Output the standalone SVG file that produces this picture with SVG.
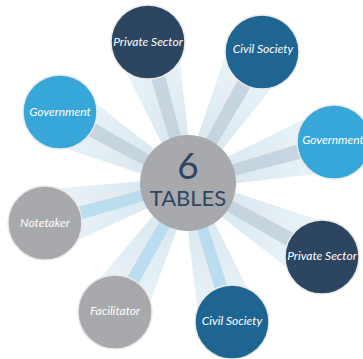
<svg xmlns="http://www.w3.org/2000/svg" width="363" height="359" viewBox="0 0 363 359">
<style>
.lbl{font-family:Lato,"Open Sans","Liberation Sans",sans-serif;font-style:italic;font-size:12px;fill:#ffffff;text-anchor:middle}
.node{stroke:#e9e9e9;stroke-width:1.5}
.dark{fill:#2c4661}
.civil{fill:#1f6592}
.gov{fill:#37a7d9}
.gray{fill:#a8a9ad}
.fan{fill:url(#fanGrad)}
.fan2{fill:url(#fanGrad2)}
.bandG{fill:#c0d0dc;opacity:0.85}
.bandB{fill:#b5dbee;opacity:0.9}
</style>
<defs>
<linearGradient id="fanGrad" x1="0" y1="0" x2="1" y2="0">
<stop offset="0" stop-color="#cfe0ea" stop-opacity="0.9"/>
<stop offset="1" stop-color="#e6f2f9" stop-opacity="0.8"/>
</linearGradient>
<linearGradient id="fanGrad2" x1="0" y1="0" x2="1" y2="0">
<stop offset="0" stop-color="#d7e1e9" stop-opacity="0.9"/>
<stop offset="1" stop-color="#f0f4f7" stop-opacity="0.6"/>
</linearGradient>
<g id="beamG">
<polygon class="fan" points="0,-6 150,-34 150,30 0,6"/>
<polygon class="fan2" points="0,-3 150,-20 150,4 0,4"/>
<polygon class="bandG" points="0,-5 150,-8 150,8 0,5"/>
</g>
<g id="beamB">
<polygon class="fan" points="0,-6 150,-30 150,34 0,6"/>
<polygon class="fan2" points="0,-4 150,-4 150,20 0,3"/>
<polygon class="bandB" points="0,-5 150,-7 150,7 0,5"/>
</g>
</defs>
<g id="connectors">
<use href="#beamG" transform="translate(188,183) rotate(-105.8)"/>
<use href="#beamG" transform="translate(188,183) rotate(-60.5)"/>
<use href="#beamG" transform="translate(188,183) rotate(-151)"/>
<use href="#beamG" transform="translate(188,183) rotate(-15.8)"/>
<use href="#beamB" transform="translate(188,183) rotate(164.4)"/>
<use href="#beamB" transform="translate(188,183) rotate(119.5)"/>
<use href="#beamB" transform="translate(188,183) rotate(72.4)"/>
<use href="#beamG" transform="translate(188,183) rotate(28.9)"/>
</g>
<g id="center">
<circle cx="188" cy="183" r="48" class="gray"/>
<text x="188" y="179" font-family="Lato,'Open Sans','Liberation Sans',sans-serif" font-size="37" fill="#2c4661" text-anchor="middle">6</text>
<text x="188" y="206" font-family="Lato,'Open Sans','Liberation Sans',sans-serif" font-size="22" fill="#2c4661" text-anchor="middle">TABLES</text>
</g>
<g id="privateTop"><circle cx="148" cy="42" r="37" class="node dark"/><text x="148" y="46" class="lbl">Private Sector</text></g>
<g id="civilTop"><circle cx="262" cy="52" r="37" class="node civil"/><text x="263" y="53" class="lbl">Civil Society</text></g>
<g id="govLeft"><circle cx="60" cy="112" r="37" class="node gov"/><text x="60" y="116" class="lbl">Government</text></g>
<g id="govRight"><circle cx="334" cy="142" r="37" class="node gov"/><text x="333" y="144" class="lbl">Government</text></g>
<g id="notetaker"><circle cx="45" cy="223" r="37" class="node gray"/><text x="45" y="227" class="lbl">Notetaker</text></g>
<g id="facilitator"><circle cx="115" cy="312" r="37" class="node gray"/><text x="115" y="315" class="lbl">Facilitator</text></g>
<g id="civilBottom"><circle cx="232" cy="322" r="37" class="node civil"/><text x="232" y="325" class="lbl">Civil Society</text></g>
<g id="privateRight"><circle cx="322" cy="257" r="37" class="node dark"/><text x="322" y="260" class="lbl">Private Sector</text></g>
</svg>
